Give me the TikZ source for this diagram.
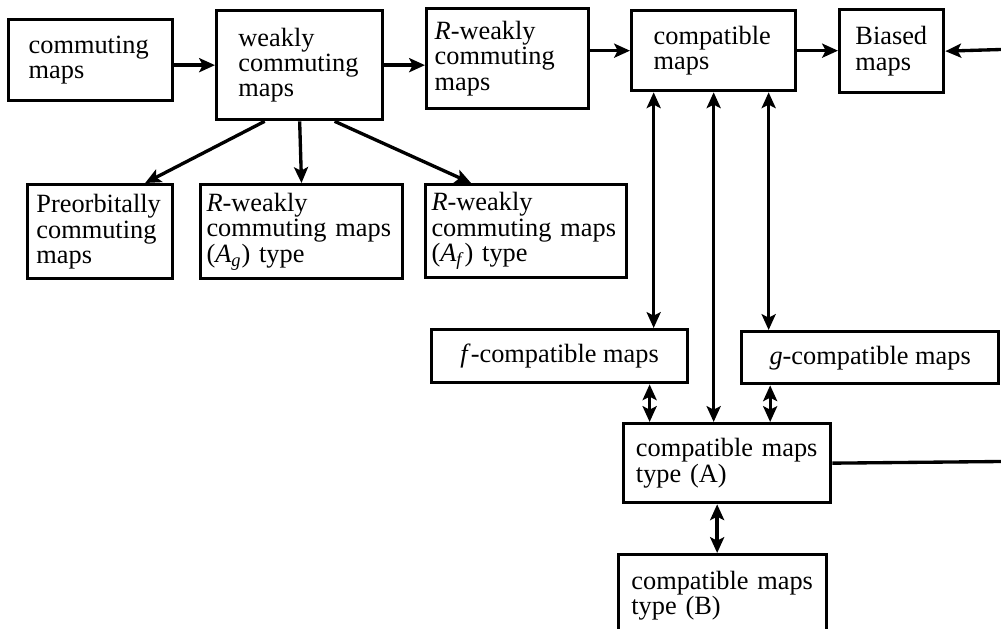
\documentclass[tikz,border=0pt]{standalone}
\usepackage{fontspec}
\setmainfont{Liberation Serif}
\usetikzlibrary{arrows.meta}

\begin{document}
\begin{tikzpicture}[x=0.02cm,y=-0.02cm,
    mapbox/.style={draw,line width=1.9pt,anchor=north west,align=left,inner ysep=0pt,
      font=\fontsize{15}{14.5}\selectfont},
    arr/.style={line width=1.9pt,-{Stealth[length=9pt,width=8pt,inset=2pt]}},
    dbl/.style={line width=1.9pt,{Stealth[length=9pt,width=8pt,inset=2pt]}-{Stealth[length=9pt,width=8pt,inset=2pt]}},
    plain/.style={line width=1.9pt}]
  \clip (0,0) rectangle (1001,629);
  \node[mapbox,minimum width=3.28cm,minimum height=1.62cm,text width=2.48cm] (comm) at (7,18) {commuting\\maps};
  \node[mapbox,minimum width=3.32cm,minimum height=2.18cm,text width=2.45cm] (weak) at (215,9) {weakly\\commuting\\maps};
  \node[mapbox,minimum width=3.24cm,minimum height=2.0cm,text width=2.92cm] (rweak) at (425,7) {\textit{R}-weakly\\commuting\\maps};
  \node[mapbox,minimum width=3.28cm,minimum height=1.6cm,text width=2.4cm] (compat) at (630,9) {compatible\\maps};
  \node[mapbox,minimum width=2.08cm,minimum height=1.66cm,text width=1.45cm] (biased) at (838,8) {Biased\\maps};
  \node[mapbox,minimum width=2.9cm,minimum height=1.88cm,text width=2.55cm] (preorb) at (26,183) {Preorbitally\\commuting\\maps};
  \node[mapbox,minimum width=3.96cm,minimum height=1.88cm,text width=3.8cm] (rwag) at (199,183) {\textit{R}-weakly\\commuting maps\\(\textit{A}\textsubscript{\textit{g}}) type};
  \node[mapbox,minimum width=3.94cm,minimum height=1.86cm,text width=3.78cm] (rwaf) at (424,183) {\textit{R}-weakly\\commuting maps\\(\textit{A}\textsubscript{\textit{f}}) type};
  \node[mapbox,align=center,minimum width=5.12cm,minimum height=1.06cm] (fcomp) at (430,328) {\textit{f}-compatible maps};
  \node[mapbox,align=center,minimum width=5.14cm,minimum height=1.04cm] (gcomp) at (740,330) {\textit{g}-compatible maps};
  \node[mapbox,minimum width=4.14cm,minimum height=1.58cm,text width=3.65cm] (typeA) at (622,422) {compatible maps\\type (A)};
  \node[mapbox,minimum width=4.16cm,minimum height=1.64cm,text width=3.65cm] (typeB) at (617,553) {compatible maps\\type (B)};
  \coordinate (bin) at (1001,49.5);
  \coordinate (aout) at (1001,461.5);

  \draw[arr] (comm.east |- weak.west) -- (weak.west);
  \draw[arr] (weak.east) -- (weak.east -| rweak.west);
  \draw[arr] (rweak.east |- compat.west) -- (compat.west);
  \draw[arr] (compat.east) -- (compat.east -| biased.west);
  \draw[arr] (bin) -- (biased.east);
  \draw[arr] ([xshift=-0.7cm]weak.south) -- ([xshift=0.9cm]preorb.north);
  \draw[arr] (weak.south) -- (rwag.north);
  \draw[arr] ([xshift=0.7cm]weak.south) -- ([xshift=-1.1cm]rwaf.north);
  \draw[dbl] ([xshift=-1.2cm]compat.south) -- ([xshift=-1.2cm]compat.south |- fcomp.north);
  \draw[dbl] (compat.south) -- (compat.south |- typeA.north);
  \draw[dbl] ([xshift=1.1cm]compat.south) -- ([xshift=1.1cm]compat.south |- gcomp.north);
  \draw[dbl] ([xshift=1.8cm]fcomp.south) -- ([xshift=1.8cm]fcomp.south |- typeA.north);
  \draw[dbl] ([xshift=-2cm]gcomp.south) -- ([xshift=-2cm]gcomp.south |- typeA.north);
  \draw[dbl] ([xshift=-0.2cm]typeA.south) -- ([xshift=-0.2cm]typeA.south |- typeB.north);
  \draw[plain] (typeA.east) -- (aout);
\end{tikzpicture}
\end{document}
